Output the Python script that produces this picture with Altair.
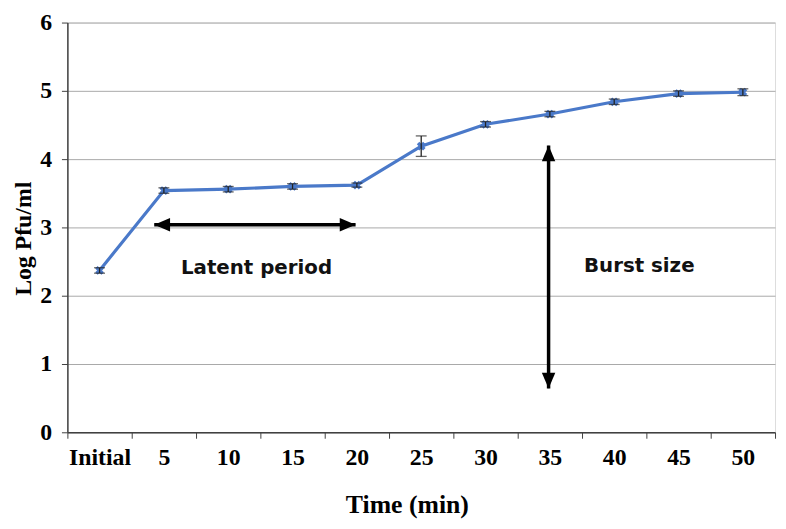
import altair as alt
import pandas as pd

# ---- data ----
categories = ["Initial", "5", "10", "15", "20", "25", "30", "35", "40", "45", "50"]
log_pfu = [2.37, 3.54, 3.56, 3.60, 3.62, 4.19, 4.51, 4.66, 4.84, 4.96, 4.98]
err = [0.04, 0.04, 0.04, 0.04, 0.03, 0.15, 0.04, 0.04, 0.04, 0.04, 0.05]
y_ticks = [0, 1, 2, 3, 4, 5, 6]

# annotation arrows (x in category-index units, y in Log Pfu/ml)
arrow_x = [0.85, 6.98]
arrow_x2 = [3.98, 6.98]
arrow_y = [3.04, 0.64]
arrow_y2 = [3.04, 4.20]

labels_text = ["Latent period", "Burst size"]
labels_x = [2.44, 8.39]
labels_y = [2.40, 2.43]

BLUE = "#4a79c9"
DARK = "#404040"

n = len(categories)
df = pd.DataFrame({
    "idx": list(range(n)),
    "cat": categories,
    "v": log_pfu,
    "lo": [v - e for v, e in zip(log_pfu, err)],
    "hi": [v + e for v, e in zip(log_pfu, err)],
})
caps = pd.DataFrame({
    "idx": list(range(n)) * 2,
    "c": [v - e for v, e in zip(log_pfu, err)] + [v + e for v, e in zip(log_pfu, err)],
})
arrows = pd.DataFrame({"x": arrow_x, "x2": arrow_x2, "y": arrow_y, "y2": arrow_y2})
heads = pd.DataFrame({
    "x": [arrow_x[0], arrow_x2[0], arrow_x[1], arrow_x2[1]],
    "y": [arrow_y[0], arrow_y2[0], arrow_y[1], arrow_y2[1]],
    "ang": [180, 0, 90, 270],
})
texts = pd.DataFrame({"t": labels_text, "x": labels_x, "y": labels_y})

W, H = 715, 414
band = W / n
label_list = "[" + ",".join("'" + c + "'" for c in categories) + "]"

xscale = alt.Scale(domain=[-0.5, n - 0.5], nice=False, zero=False)
yscale = alt.Scale(domain=[0, 6], nice=False)

xaxis = alt.Axis(
    values=[i - 0.5 for i in range(n + 1)],
    labelExpr=label_list + "[round(datum.value + 0.5)] || ''",
    labelOffset=band / 2,
    labelFont="Liberation Serif", labelFontWeight="bold", labelFontSize=24,
    labelColor="black", labelPadding=8, labelFlush=False, labelOverlap=False,
    tickSize=6, tickColor=DARK, tickWidth=1,
    domainColor=DARK, domainWidth=1.5, grid=False,
    title="Time (min)", titleFont="Liberation Serif", titleFontWeight="bold",
    titleFontSize=26, titleColor="black", titleX=343, titleY=60,
    titleBaseline="top",
)
yaxis = alt.Axis(
    values=y_ticks, format="d",
    labelFont="Liberation Serif", labelFontWeight="bold", labelFontSize=24,
    labelColor="black", labelPadding=10,
    tickSize=6, tickColor=DARK, tickWidth=1,
    domainColor=DARK, domainWidth=1.5,
    grid=True, gridColor="#a8a8a8", gridWidth=1,
    title="Log Pfu/ml", titleFont="Liberation Serif", titleFontWeight="bold",
    titleFontSize=24, titleColor="black", titlePadding=4, titleY=218,
)

base = alt.Chart(df)

line = base.mark_line(color=BLUE, strokeWidth=3.2).encode(
    x=alt.X("idx:Q", scale=xscale, axis=xaxis),
    y=alt.Y("v:Q", scale=yscale, axis=yaxis),
)
pts = base.mark_point(shape="cross", angle=45, filled=True, color=BLUE, size=80, opacity=1).encode(
    x="idx:Q", y="v:Q"
)
ebar = base.mark_rule(color="#222222", strokeWidth=1.3).encode(
    x="idx:Q", y="lo:Q", y2="hi:Q"
)
ecap = alt.Chart(caps).mark_tick(color="#222222", orient="horizontal", size=11, thickness=1.3).encode(
    x="idx:Q", y="c:Q"
)
shaft = alt.Chart(arrows).mark_rule(color="black", strokeWidth=3.5).encode(
    x="x:Q", x2="x2:Q", y="y:Q", y2="y2:Q"
)
head = alt.Chart(heads).mark_point(
    shape="M0,0L-2,-0.85L-2,0.85Z", filled=True, color="black", size=256, opacity=1
).encode(
    x="x:Q", y="y:Q", angle=alt.Angle("ang:Q", scale=None)
)
txt = alt.Chart(texts).mark_text(
    font="DejaVu Sans", fontWeight="bold", fontSize=20, color="#111111",
    align="center", baseline="middle"
).encode(x="x:Q", y="y:Q", text="t:N")

chart = alt.layer(line, pts, ebar, ecap, shaft, head, txt).properties(
    width=W, height=H,
    autosize=alt.AutoSizeParams(type="none"),
    padding={"left": 60, "top": 12, "right": 3, "bottom": 95},
).configure_view(stroke=DARK, strokeWidth=1.5).configure(background="white")

chart.save("out.html", embed_options={"renderer": "svg", "actions": False})
